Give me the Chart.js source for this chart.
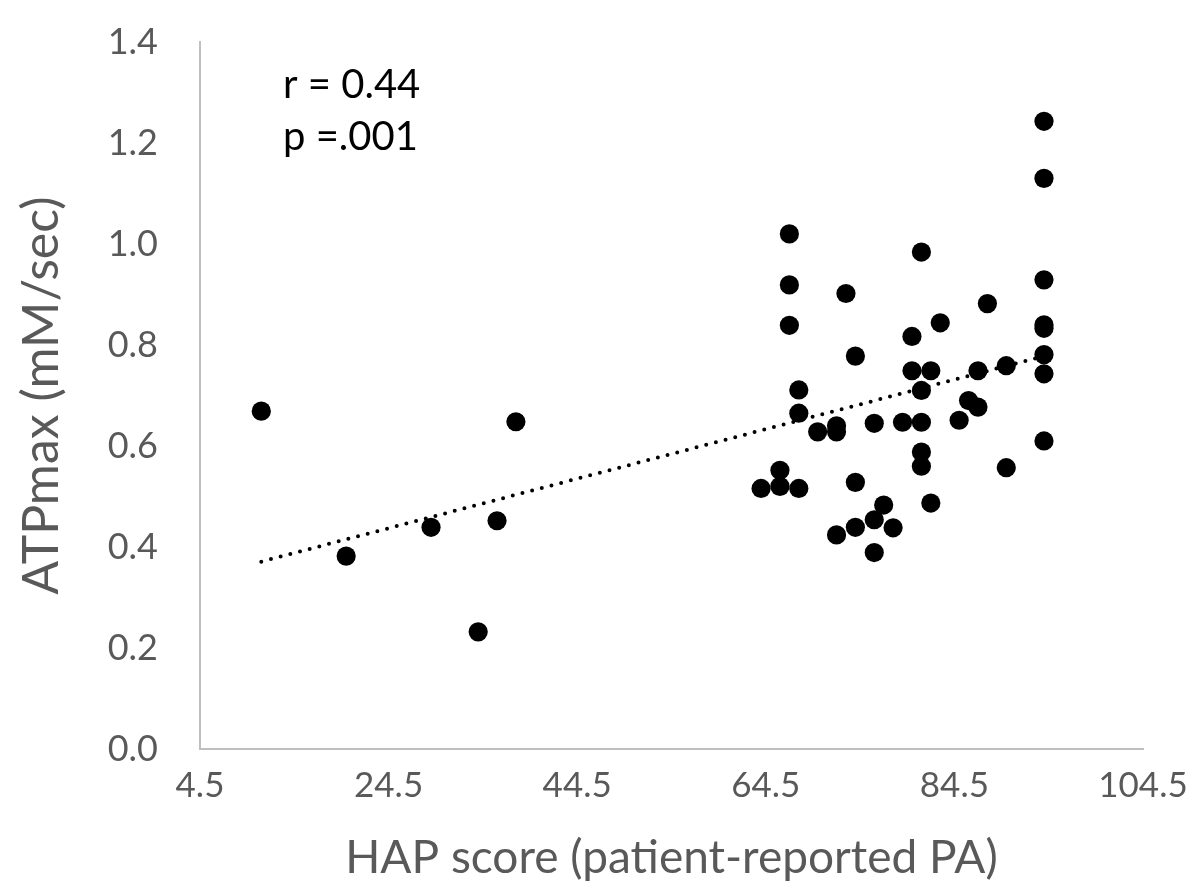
<!DOCTYPE html>
<html>
<head>
<meta charset="utf-8">
<script src="https://cdn.jsdelivr.net/npm/chart.js@4"></script>
<style>
  html, body { margin: 0; padding: 0; background: #fff; }
  #wrap { width: 1192px; height: 896px; }
</style>
</head>
<body>
<div id="wrap"><canvas id="chart" width="1192" height="896"></canvas></div>
<script>
// HAP score vs ATPmax
const hapScore = [
  11, 20, 29, 34, 36, 38,
  64, 66, 66, 67, 67, 67, 68, 68, 68,
  70, 72, 72, 72, 73, 74, 74, 74,
  76, 76, 76, 77, 78, 79, 80, 80,
  81, 81, 81, 81, 81, 82, 82, 83,
  85, 86, 87, 87, 88, 90, 90,
  94, 94, 94, 94, 94, 94, 94, 94
];
const atpMax = [
  0.669, 0.382, 0.439, 0.232, 0.452, 0.648,
  0.516, 0.552, 0.520, 1.020, 0.919, 0.839, 0.711, 0.665, 0.516,
  0.628, 0.640, 0.628, 0.424, 0.902, 0.778, 0.528, 0.439,
  0.645, 0.454, 0.389, 0.483, 0.438, 0.647, 0.817, 0.749,
  0.984, 0.710, 0.647, 0.588, 0.560, 0.749, 0.487, 0.844,
  0.651, 0.690, 0.677, 0.749, 0.882, 0.759, 0.557,
  1.243, 1.130, 0.929, 0.840, 0.833, 0.781, 0.743, 0.610
];
// linear trendline ends
const trendX = [11, 94];
const trendY = [0.371, 0.778];

const xTicks = [4.5, 24.5, 44.5, 64.5, 84.5, 104.5];
const yTicks = [0, 0.2, 0.4, 0.6, 0.8, 1.0, 1.2, 1.4];
const statLines = ['r = 0.44', 'p =.001'];

const FONT = 'Lato, "Open Sans", sans-serif';
const GREY = '#595959';

const points = hapScore.map((x, i) => ({ x: x, y: atpMax[i] }));
const trend = trendX.map((x, i) => ({ x: x, y: trendY[i] }));

// r / p text in the top-left of the plot
const statText = {
  id: 'statText',
  afterDraw(chart) {
    const ctx = chart.ctx;
    const area = chart.chartArea;
    ctx.save();
    ctx.fillStyle = '#000';
    ctx.font = '40px ' + FONT;
    ctx.textBaseline = 'middle';
    statLines.forEach((t, i) => {
      ctx.fillText(t, area.left + 83, area.top + 43 + i * 52);
    });
    ctx.restore();
  }
};

new Chart(document.getElementById('chart').getContext('2d'), {
  type: 'scatter',
  data: {
    datasets: [
      {
        label: 'ATPmax',
        data: points,
        backgroundColor: '#000',
        borderWidth: 0,
        pointRadius: 9.6,
        pointHoverRadius: 9.6
      },
      {
        label: 'trend',
        type: 'line',
        data: trend,
        borderColor: '#000',
        borderWidth: 4,
        borderDash: [0, 10],
        borderCapStyle: 'round',
        pointRadius: 0,
        fill: false
      }
    ]
  },
  options: {
    responsive: false,
    animation: false,
    layout: { padding: { top: 42, right: 49, left: 0, bottom: 0 } },
    plugins: {
      legend: { display: false },
      tooltip: { enabled: false }
    },
    scales: {
      x: {
        type: 'linear',
        min: xTicks[0],
        max: xTicks[xTicks.length - 1],
        afterBuildTicks: s => { s.ticks = xTicks.map(v => ({ value: v })); },
        afterFit: s => { s.height = 147; s.paddingLeft = 0; s.paddingRight = 0; },
        grid: { display: false, drawTicks: false },
        border: { color: '#bfbfbf', width: 2 },
        ticks: {
          color: GREY,
          font: { family: FONT, size: 35 },
          padding: 16,
          maxRotation: 0,
          callback: v => v.toFixed(1)
        },
        title: {
          display: true,
          text: 'HAP score (patient-reported PA)',
          color: GREY,
          font: { family: FONT, size: 46 },
          padding: { top: 0, bottom: 10 }
        }
      },
      y: {
        min: 0,
        max: 1.4,
        afterBuildTicks: s => { s.ticks = yTicks.map(v => ({ value: v })); },
        afterFit: s => { s.width = 200; s.paddingTop = 0; s.paddingBottom = 0; },
        grid: { display: false, drawTicks: false },
        border: { color: '#bfbfbf', width: 2 },
        ticks: {
          color: GREY,
          font: { family: FONT, size: 36 },
          padding: 42,
          callback: v => v.toFixed(1)
        },
        title: {
          display: true,
          text: 'ATPmax (mM/sec)',
          color: GREY,
          font: { family: FONT, size: 50 },
          padding: { top: 12, bottom: 0 }
        }
      }
    }
  },
  plugins: [statText]
});
</script>
</body>
</html>
